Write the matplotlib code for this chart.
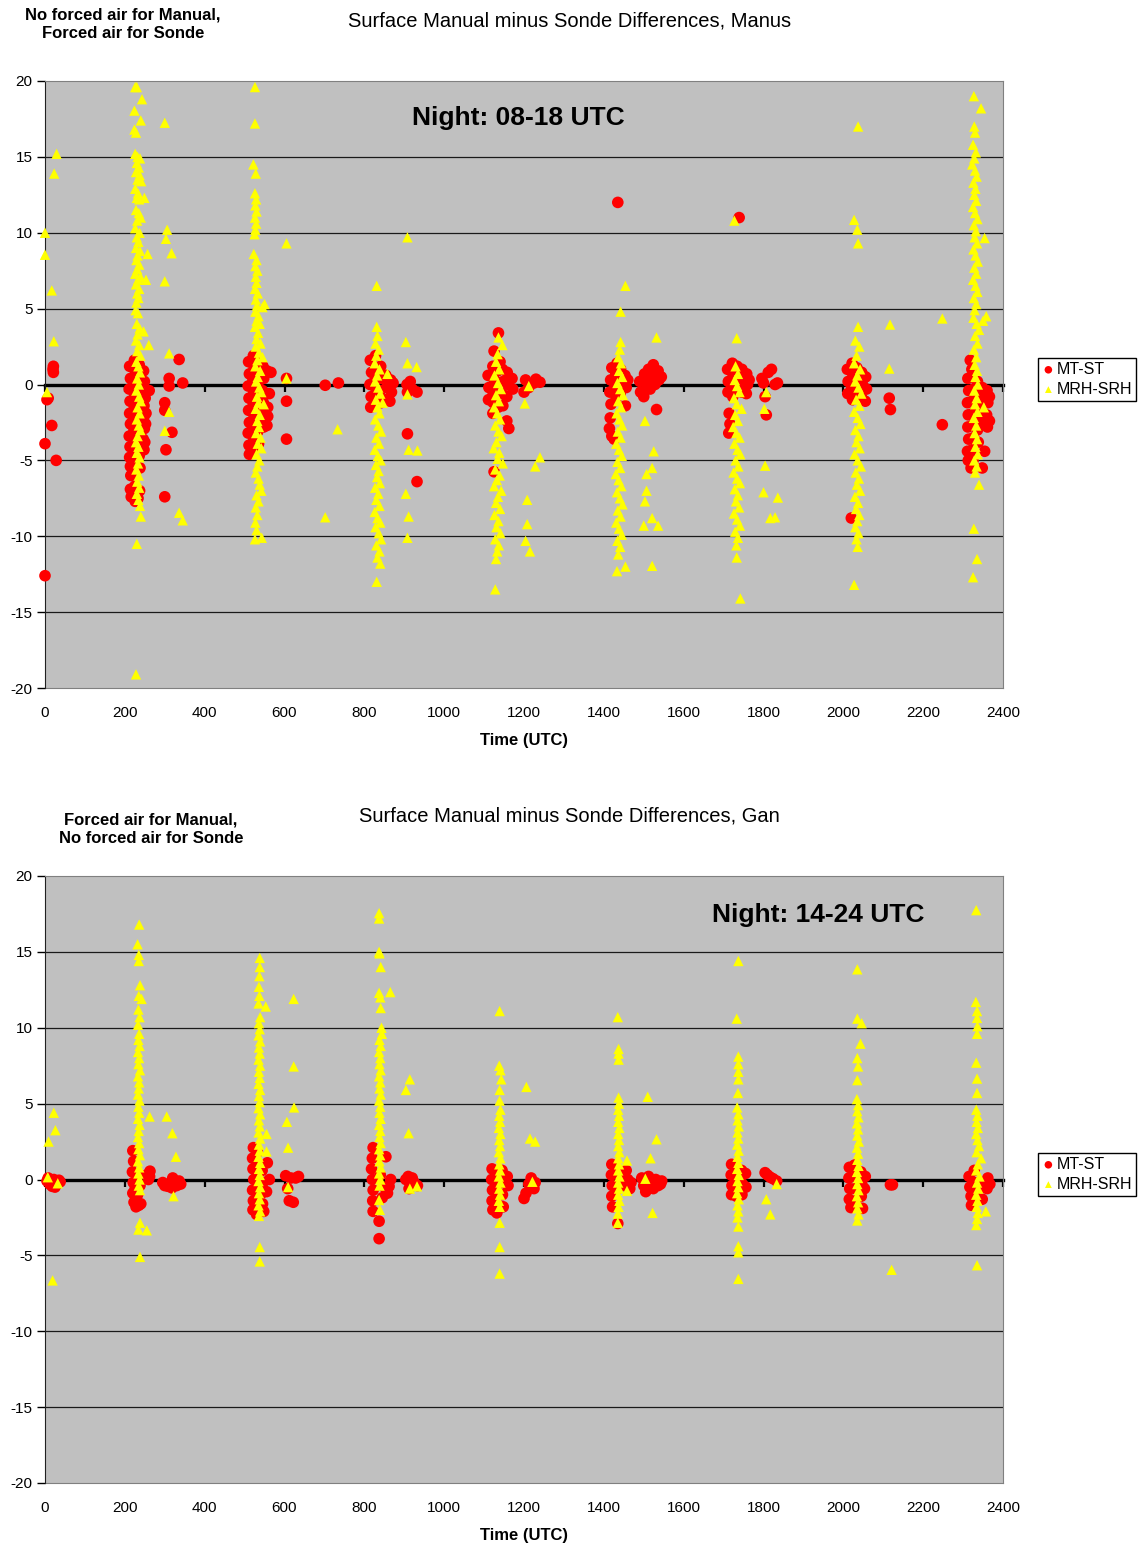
import matplotlib
matplotlib.use("Agg")
from matplotlib import pyplot as plt

plt.rcParams['font.family'] = ['Liberation Sans', 'DejaVu Sans']
plt.rcParams['axes.unicode_minus'] = False

# ---- data (time UTC, difference) ----

manus_mt = [
    (0, -3.9), (0, -12.6), (5, -1.0), (8, -0.9), (17, -2.7), (28, -5.0), (21, 1.2), (21, 0.8), (20, 1.0),
    # ~230
    (212, 1.2), (214, 0.4), (211, -0.3), (213, -1.1), (212, -1.9), (214, -2.6), (211, -3.4), (213, -4.1),
    (212, -4.8), (214, -5.4), (215, -6.0), (214, -6.9), (216, -7.4),
    (224, 1.6), (226, 0.9), (223, 0.1), (225, -0.7), (224, -1.5), (226, -2.3), (223, -3.0), (225, -3.8),
    (224, -4.5), (226, -5.2), (224, -5.9), (225, -6.7), (223, -7.2), (226, -7.7),
    (236, 1.3), (238, 0.6), (235, -0.2), (237, -1.0), (236, -1.8), (238, -2.5), (235, -3.2), (237, -4.0),
    (236, -4.7), (238, -5.5), (237, -7.0), (233, -7.5),
    (247, 0.9), (249, 0.2), (246, -0.6), (248, -1.4), (247, -2.2), (249, -2.9), (246, -3.6), (248, -4.3),
    (250, -3.8), (252, -2.6), (253, -1.9), (251, -0.9), (261, -0.4),
    (300, -1.2), (300, -1.7), (311, 0.4), (311, -0.1), (303, -4.3), (300, -7.4), (318, -3.15), (336, 1.65), (345, 0.1),
    # ~530
    (510, 1.5), (512, 0.7), (509, -0.1), (511, -0.9), (510, -1.7), (512, -2.5), (509, -3.2), (511, -4.0), (512, -4.6),
    (522, 1.9), (524, 1.1), (521, 0.3), (523, -0.5), (522, -1.3), (524, -2.1), (521, -2.9), (523, -3.6), (522, -4.3),
    (534, 1.6), (536, 0.8), (533, 0.0), (535, -0.8), (534, -1.6), (536, -2.4), (533, -3.1), (535, -3.9),
    (546, 1.2), (548, 0.4), (545, -0.4), (547, -1.2), (546, -2.0), (548, -2.8), (556, 0.9), (558, -1.5),
    (558, -2.1), (556, -2.7), (566, 0.8), (562, -0.6),
    (605, 0.4), (605, -1.1), (605, -3.6), (702, -0.05), (735, 0.1),
    # ~835
    (815, 1.6), (818, 0.8), (814, 0.0), (817, -0.8), (816, -1.5), (828, 1.9), (830, 1.1), (827, 0.3), (829, -0.5),
    (828, -1.3), (841, 1.2), (843, 0.4), (840, -0.4), (842, -1.2), (854, 0.6), (856, -0.2), (853, -1.0),
    (866, 0.3), (868, -0.5), (864, -1.1), (872, 0.1),
    (907, 0.0), (908, -0.5), (932, -0.5), (908, -3.25), (932, -6.4), (915, 0.2), (920, -0.3),
    # ~1130
    (1136, 3.4), (1125, 2.2), (1140, 1.5), (1110, 0.6), (1112, -0.2), (1111, -1.0), (1122, 1.2), (1124, 0.4),
    (1121, -0.4), (1123, -1.2), (1122, -1.9), (1134, 0.9), (1136, 0.1), (1133, -0.7), (1135, -1.5), (1146, 1.0),
    (1148, 0.2), (1145, -0.6), (1147, -1.4), (1158, 0.8), (1160, 0.0), (1157, -0.8), (1170, 0.4), (1172, -0.3),
    (1162, -2.9), (1157, -2.4), (1125, -5.75),
    (1204, 0.3), (1200, -0.5), (1240, 0.15), (1212, -0.2), (1225, 0.1), (1230, 0.35),
    # ~1440
    (1433, 1.4), (1420, 1.1), (1417, 0.3), (1415, -0.5), (1418, -1.3), (1416, -2.2), (1414, -2.9), (1430, 0.7),
    (1428, -0.1), (1431, -0.9), (1442, 1.0), (1444, 0.2), (1441, -0.6), (1453, 0.6), (1456, -0.2), (1460, 0.3),
    (1454, -1.4), (1426, -3.6), (1420, -3.4), (1435, 12.0),
    (1490, 0.2), (1492, -0.5), (1500, -0.8), (1502, 0.7), (1505, 0.1), (1512, 1.0), (1514, 0.3), (1516, -0.3),
    (1524, 1.3), (1526, 0.6), (1528, 0.0), (1536, 0.9), (1538, 0.3), (1544, 0.5), (1532, -1.65),
    # ~1735
    (1710, 1.0), (1712, 0.2), (1711, -0.5), (1722, 1.4), (1724, 0.6), (1721, -0.2), (1723, -0.8), (1734, 1.2),
    (1736, 0.4), (1733, -0.4), (1746, 1.0), (1748, 0.2), (1745, -0.5), (1758, 0.7), (1760, 0.0), (1757, -0.6),
    (1764, 0.3), (1714, -1.9), (1716, -2.6), (1713, -3.2), (1739, 11.0),
    (1796, 0.4), (1812, 0.8), (1829, 0.0), (1804, -0.8), (1807, -2.0), (1820, 1.0), (1800, 0.1), (1835, 0.1),
    # ~2040
    (2010, 1.0), (2012, 0.2), (2011, -0.6), (2022, 1.4), (2024, 0.6), (2021, -0.2), (2023, -1.0), (2034, 1.1),
    (2036, 0.3), (2033, -0.5), (2046, 0.8), (2048, 0.0), (2045, -0.8), (2056, 0.5), (2058, -0.3), (2055, -1.1),
    (2020, -8.8), (2115, -0.9), (2118, -1.65), (2248, -2.65),
    # ~2340
    (2318, 1.6), (2322, 1.0), (2312, 0.4), (2314, -0.4), (2311, -1.2), (2313, -2.0), (2312, -2.8), (2314, -3.6),
    (2311, -4.4), (2313, -5.0), (2324, 0.5), (2326, -0.3), (2323, -1.1), (2325, -1.9), (2324, -2.7), (2326, -3.5),
    (2323, -4.3), (2325, -5.0), (2336, 0.2), (2338, -0.6), (2335, -1.4), (2337, -2.2), (2336, -3.0), (2338, -3.8),
    (2348, -0.2), (2350, -1.0), (2347, -1.8), (2349, -2.6), (2360, -0.4), (2362, -1.2), (2359, -2.0), (2361, -2.8),
    (2354, -4.4), (2348, -5.5), (2366, -0.8), (2366, -2.4), (2320, -5.5),
]

manus_rh = [
    (0, 10.0), (0, 8.55), (17, 6.2), (23, 13.9), (29, 15.2), (22, 2.85), (5, -0.5),
    # ~230
    (226, 19.6), (230, 19.6), (243, 18.8), (224, 18.05), (240, 17.4), (224, 16.8), (228, 16.6), (226, 15.2),
    (232, 15.0), (238, 14.9), (230, 14.6), (235, 14.3), (228, 14.0), (237, 13.8), (232, 13.5), (241, 13.4),
    (226, 12.9), (233, 12.6), (230, 12.3), (249, 12.3), (236, 12.2), (228, 11.5), (235, 11.3), (240, 11.0),
    (231, 10.8), (226, 10.3), (237, 10.0), (230, 9.7), (234, 9.4), (228, 9.0), (238, 8.8), (232, 8.5),
    (257, 8.6), (229, 8.2), (236, 7.9), (231, 7.6), (226, 7.3), (239, 7.1), (233, 6.9), (253, 6.9),
    (228, 6.6), (236, 6.3), (231, 6.0), (234, 5.7), (229, 5.4), (227, 4.9), (233, 4.7), (230, 4.0),
    (237, 3.7), (247, 3.5), (232, 3.3), (228, 2.9), (236, 2.6), (260, 2.6), (231, 2.2), (239, 1.9),
    (229, 1.5), (234, 1.2), (238, 0.8), (231, 0.4), (235, 0.0), (229, -0.4), (236, -0.8), (240, -1.1),
    (232, -1.5), (237, -1.9), (230, -2.3), (235, -2.7), (239, -3.0), (232, -3.4), (228, -3.8), (234, -4.1),
    (230, -4.5), (237, -4.8), (233, -5.2), (229, -5.6), (235, -6.0), (231, -6.4), (236, -6.8), (230, -7.2),
    (234, -7.6), (238, -8.0), (240, -8.7), (230, -10.5), (228, -19.1),
    (300, 17.25), (306, 10.2), (303, 9.6), (317, 8.65), (300, 6.8), (311, 2.05), (311, -1.8), (300, -3.05),
    (336, -8.45), (345, -8.95),
    # ~530
    (526, 19.6), (526, 17.2), (522, 14.5), (528, 13.9), (526, 12.6), (529, 12.2), (527, 11.8), (530, 11.4),
    (526, 11.0), (529, 10.6), (527, 10.2), (525, 9.9), (523, 8.6), (530, 8.2), (527, 7.8), (532, 7.5),
    (528, 7.1), (530, 6.7), (526, 6.3), (533, 6.0), (528, 5.6), (545, 5.1), (550, 5.3), (531, 5.2),
    (527, 4.8), (535, 4.5), (530, 4.2), (538, 4.0), (526, 3.8), (534, 3.4), (530, 3.0), (540, 2.7),
    (528, 2.5), (536, 2.1), (545, 1.8), (532, 1.6), (527, 1.2), (539, 0.9), (533, 0.5), (529, 0.2),
    (537, -0.2), (542, -0.5), (531, -0.8), (535, -1.2), (548, -1.3), (528, -1.6), (538, -2.0), (532, -2.4),
    (536, -2.8), (529, -3.2), (540, -3.5), (533, -3.9), (542, -4.2), (530, -4.6), (537, -5.0), (532, -5.4),
    (528, -5.8), (535, -6.2), (538, -6.6), (542, -7.0), (530, -7.3), (535, -7.7), (528, -8.1), (532, -8.6),
    (527, -9.1), (530, -9.6), (526, -10.2), (543, -10.1),
    (605, 9.3), (605, 0.4), (702, -8.75), (733, -2.95),
    # ~835
    (831, 6.5), (831, 3.8), (833, 3.2), (828, 2.7), (836, 2.3), (830, 1.9), (826, 1.4), (838, 1.0),
    (858, 0.7), (832, 0.6), (827, 0.2), (835, -0.2), (840, -0.6), (829, -1.0), (846, -1.2), (833, -1.5),
    (838, -1.9), (827, -2.3), (835, -2.7), (842, -3.1), (830, -3.5), (837, -3.9), (826, -4.3), (834, -4.7),
    (841, -5.0), (829, -5.3), (836, -5.7), (832, -6.1), (839, -6.5), (827, -6.8), (835, -7.2), (830, -7.6),
    (838, -8.0), (826, -8.4), (833, -8.8), (840, -9.1), (828, -9.4), (836, -9.8), (842, -10.2), (830, -10.6),
    (838, -11.0), (833, -11.4), (840, -11.8), (831, -13.0),
    (908, 9.7), (904, 2.8), (908, 1.4), (931, 1.15), (908, -0.65), (911, -4.3), (933, -4.35), (904, -7.2),
    (911, -8.7), (908, -10.1),
    # ~1130
    (1136, 3.1), (1146, 2.6), (1134, 2.0), (1130, 1.5), (1138, 1.0), (1126, 0.6), (1135, 0.1), (1142, -0.3),
    (1130, -0.7), (1137, -1.1), (1125, -1.5), (1133, -1.9), (1140, -2.3), (1128, -2.7), (1136, -3.1), (1144, -3.4),
    (1131, -3.8), (1124, -4.2), (1138, -4.5), (1134, -4.9), (1147, -5.2), (1128, -5.6), (1139, -6.0), (1132, -6.3),
    (1125, -6.7), (1143, -7.0), (1135, -7.4), (1130, -7.8), (1140, -8.2), (1126, -8.6), (1136, -9.0), (1131, -9.4),
    (1141, -9.8), (1128, -10.2), (1137, -10.6), (1133, -11.0), (1130, -11.5), (1128, -13.5),
    (1202, -1.25), (1212, -0.1), (1240, -4.8), (1228, -5.4), (1208, -7.6), (1208, -9.2), (1204, -10.3), (1215, -11.0),
    # ~1440
    (1454, 6.5), (1442, 4.8), (1442, 2.8), (1440, 2.3), (1436, 1.8), (1443, 1.4), (1438, 0.9), (1446, 0.5),
    (1434, 0.1), (1441, -0.3), (1448, -0.7), (1436, -1.1), (1443, -1.5), (1432, -1.9), (1439, -2.3), (1446, -2.7),
    (1435, -3.1), (1442, -3.5), (1431, -3.9), (1438, -4.3), (1445, -4.7), (1434, -5.1), (1441, -5.5), (1430, -5.9),
    (1437, -6.3), (1444, -6.7), (1433, -7.1), (1440, -7.5), (1447, -7.9), (1435, -8.3), (1442, -8.7), (1431, -9.1),
    (1438, -9.5), (1445, -9.9), (1434, -10.3), (1441, -10.7), (1436, -11.2), (1454, -12.0), (1433, -12.3),
    (1532, 3.1), (1503, -2.4), (1525, -4.4), (1521, -5.5), (1507, -5.9), (1507, -7.0), (1503, -7.7), (1500, -9.3),
    (1521, -8.8), (1536, -9.3), (1521, -11.95),
    # ~1735
    (1727, 10.8), (1733, 3.05), (1730, 1.2), (1736, 0.7), (1728, 0.3), (1734, -0.1), (1740, -0.5), (1726, -0.9),
    (1733, -1.3), (1745, -1.6), (1729, -2.0), (1736, -2.4), (1724, -2.8), (1732, -3.2), (1740, -3.5), (1727, -3.9),
    (1735, -4.3), (1742, -4.6), (1730, -5.0), (1737, -5.4), (1725, -5.8), (1734, -6.2), (1741, -6.5), (1728, -6.9),
    (1736, -7.3), (1731, -7.7), (1739, -8.1), (1726, -8.5), (1734, -8.9), (1741, -9.3), (1729, -9.7), (1736, -10.1),
    (1732, -10.6), (1733, -11.4), (1742, -14.1),
    (1807, -0.5), (1802, -1.6), (1804, -5.35), (1800, -7.1), (1836, -7.45), (1817, -8.8), (1829, -8.75),
    # ~2040
    (2037, 17.0), (2027, 10.85), (2035, 10.2), (2037, 9.3), (2037, 3.8), (2030, 2.9), (2040, 2.5), (2033, 1.9),
    (2027, 1.4), (2042, 1.0), (2035, 0.6), (2030, 0.2), (2038, -0.2), (2045, -0.6), (2032, -1.0), (2040, -1.4),
    (2027, -1.8), (2036, -2.2), (2043, -2.6), (2030, -3.0), (2038, -3.4), (2033, -3.8), (2041, -4.2), (2028, -4.6),
    (2036, -5.0), (2044, -5.4), (2031, -5.8), (2039, -6.2), (2034, -6.6), (2042, -7.0), (2029, -7.4), (2037, -7.8),
    (2032, -8.2), (2040, -8.6), (2035, -9.0), (2030, -9.4), (2038, -9.8), (2033, -10.2), (2036, -10.7), (2027, -13.2),
    (2117, 3.95), (2115, 1.05), (2248, 4.35),
    # ~2340
    (2327, 19.0), (2345, 18.2), (2328, 17.0), (2330, 16.6), (2325, 15.8), (2332, 15.3), (2328, 14.9), (2323, 14.5),
    (2330, 14.1), (2334, 13.7), (2326, 13.3), (2331, 12.9), (2328, 12.5), (2333, 12.1), (2325, 11.7), (2330, 11.3),
    (2336, 10.9), (2327, 10.5), (2332, 10.1), (2354, 9.65), (2329, 9.7), (2335, 9.3), (2326, 8.9), (2331, 8.5),
    (2337, 8.1), (2328, 7.7), (2333, 7.3), (2325, 6.9), (2331, 6.5), (2336, 6.1), (2327, 5.7), (2333, 5.3),
    (2329, 4.9), (2358, 4.5), (2350, 4.2), (2326, 4.4), (2334, 4.0), (2340, 3.6), (2330, 3.2), (2336, 2.7),
    (2327, 2.3), (2333, 1.8), (2329, 1.3), (2335, 0.9), (2331, 0.5), (2337, 0.0), (2328, -0.4), (2334, -0.9),
    (2330, -1.3), (2352, -1.5), (2336, -1.8), (2327, -2.2), (2333, -2.7), (2329, -3.2), (2335, -3.6), (2331, -4.1),
    (2337, -4.6), (2328, -5.0), (2334, -5.4), (2330, -5.8), (2340, -6.6), (2327, -9.5), (2335, -11.5), (2325, -12.7),
]

gan_mt = [
    (5, -0.1), (12, -0.3), (18, -0.45), (25, -0.5), (30, -0.3), (38, -0.15), (8, 0.1), (22, 0.0), (35, -0.05),
    # ~235
    (220, 1.9), (222, 1.2), (219, 0.5), (221, -0.2), (220, -0.9), (223, -1.5), (228, -1.8), (235, -1.7),
    (240, -1.6), (232, -1.0), (238, -0.4), (230, 0.3), (226, -0.6), (263, 0.55), (259, 0.0), (255, 0.3), (262, 0.2),
    (295, -0.2), (300, -0.4), (308, -0.45), (315, -0.3), (320, 0.1), (325, -0.2), (330, -0.4), (336, -0.1),
    (340, -0.3), (318, -0.55),
    # ~535
    (522, 2.1), (520, 1.4), (521, 0.7), (523, 0.0), (520, -0.7), (522, -1.4), (521, -2.0), (530, -2.3),
    (532, 1.8), (534, 1.0), (531, 0.3), (533, -0.4), (532, -1.1), (534, -1.8), (544, 0.6), (546, -0.2),
    (543, -0.9), (545, -1.6), (548, -2.1), (557, 1.1), (562, 0.0), (555, -0.8),
    (603, 0.25), (616, 0.1), (628, 0.1), (622, -1.5), (608, -0.6), (635, 0.2), (612, -1.4),
    # ~835
    (822, 2.1), (820, 1.4), (818, 0.7), (820, 0.0), (822, -0.7), (821, -1.4), (822, -2.1), (837, -2.75),
    (837, -3.9), (854, 1.5), (862, -0.45), (858, -0.9), (866, 0.0), (845, -1.2), (850, -0.5), (840, 0.3),
    (904, 0.0), (912, -0.6), (933, -0.4), (920, 0.1), (925, -0.2), (910, 0.2),
    # ~1135
    (1120, 0.7), (1119, 0.0), (1121, -0.7), (1120, -1.4), (1122, -2.0), (1130, 0.4), (1131, -0.5), (1129, -1.3),
    (1132, -2.2), (1145, 0.6), (1147, -0.2), (1146, -1.0), (1148, -1.8), (1160, -0.4), (1158, 0.2),
    (1212, -0.3), (1200, -1.25), (1225, -0.6), (1218, 0.1), (1205, -0.9), (1228, -0.2),
    # ~1440
    (1420, 1.0), (1419, 0.3), (1421, -0.4), (1420, -1.1), (1422, -1.8), (1435, -2.9), (1432, 0.7), (1434, -0.6),
    (1446, 0.3), (1456, 0.6), (1460, 0.0), (1465, -0.6), (1450, -0.4), (1468, -0.2),
    (1495, 0.1), (1500, -0.4), (1505, -0.8), (1512, 0.2), (1518, -0.3), (1524, -0.6), (1530, 0.0), (1536, -0.4),
    (1542, -0.3), (1545, -0.1),
    # ~1735
    (1720, 1.0), (1719, 0.3), (1721, -0.4), (1720, -1.0), (1731, 0.8), (1733, -0.2), (1732, -1.1), (1745, 0.6),
    (1747, -0.3), (1746, -1.0), (1755, 0.4), (1756, -0.5),
    (1804, 0.45), (1817, 0.15), (1833, -0.1), (1810, 0.3), (1824, 0.05),
    # ~2040
    (2015, 0.8), (2014, 0.1), (2016, -0.6), (2015, -1.3), (2019, -1.85), (2028, 0.95), (2030, 0.2), (2029, -0.6),
    (2031, -1.4), (2044, 0.5), (2046, -0.3), (2045, -1.1), (2055, 0.2), (2053, -0.6), (2048, -1.9),
    (2118, -0.35), (2123, -0.35),
    # ~2340
    (2315, 0.2), (2317, -0.5), (2321, -1.7), (2320, -1.1), (2328, 0.6), (2330, -0.2), (2329, -1.0), (2345, -0.5),
    (2348, -1.3), (2358, -0.15), (2362, 0.1), (2360, -0.6), (2367, -0.3),
]

gan_rh = [
    (9, 2.5), (22, 4.4), (26, 3.25), (7, 0.15), (32, -0.25), (19, -6.65),
    # ~235
    (236, 16.8), (232, 15.5), (235, 14.8), (235, 14.4), (238, 12.8), (235, 12.1), (242, 11.9), (234, 11.2),
    (237, 10.7), (233, 10.2), (236, 9.6), (234, 9.2), (237, 8.8), (233, 8.4), (236, 8.0), (234, 7.6),
    (238, 7.2), (233, 6.8), (236, 6.4), (235, 6.0), (233, 5.6), (237, 5.2), (234, 4.8), (236, 4.4),
    (233, 4.0), (237, 3.6), (235, 3.2), (233, 2.8), (236, 2.4), (234, 2.0), (238, 1.6), (233, 1.2),
    (236, 0.8), (234, 0.4), (237, 0.0), (235, -0.4), (238, -0.7), (238, -2.85), (234, -3.3), (255, -3.35),
    (238, -5.1), (262, 4.15),
    (305, 4.15), (319, 3.05), (328, 1.5), (322, -1.1),
    # ~540
    (538, 14.6), (538, 14.0), (537, 13.4), (536, 12.7), (537, 12.1), (535, 11.6), (553, 11.4), (539, 10.7),
    (536, 10.3), (538, 9.9), (535, 9.5), (539, 9.1), (536, 8.7), (538, 8.3), (535, 7.9), (539, 7.5),
    (536, 7.1), (538, 6.7), (535, 6.3), (539, 5.9), (536, 5.5), (538, 5.1), (535, 4.7), (539, 4.3),
    (536, 3.9), (538, 3.5), (555, 3.0), (535, 3.1), (539, 2.7), (536, 2.3), (555, 1.85), (538, 1.9),
    (535, 1.5), (539, 1.1), (536, 0.7), (538, 0.3), (535, -0.1), (539, -0.5), (536, -0.9), (538, -1.3),
    (535, -1.7), (539, -2.1), (536, -2.4), (538, -4.45), (538, -5.4),
    (623, 11.9), (623, 7.45), (624, 4.75), (606, 3.8), (609, 2.1), (609, -0.5),
    # ~835
    (837, 17.55), (837, 17.2), (837, 15.0), (838, 14.9), (841, 14.0), (837, 12.3), (840, 12.0), (841, 11.3),
    (865, 12.35), (843, 10.0), (844, 9.6), (838, 9.2), (841, 8.8), (837, 8.4), (840, 8.0), (838, 7.6),
    (841, 7.2), (837, 6.8), (840, 6.4), (838, 6.0), (841, 5.6), (837, 5.2), (840, 4.8), (838, 4.4),
    (841, 4.0), (837, 3.6), (840, 3.2), (838, 2.8), (841, 2.4), (837, 2.0), (840, 1.6), (838, 1.2),
    (841, 0.8), (837, 0.4), (840, 0.0), (838, -0.4), (837, -1.35), (839, -2.0),
    (904, 5.9), (914, 6.6), (911, 3.05), (914, -0.6), (932, -0.45),
    # ~1135
    (1139, 11.1), (1138, 7.5), (1141, 7.2), (1143, 6.6), (1139, 5.9), (1139, 5.2), (1141, 4.6), (1138, 4.2),
    (1140, 3.8), (1137, 3.4), (1141, 3.0), (1138, 2.6), (1140, 2.2), (1137, 1.8), (1141, 1.4), (1138, 1.0),
    (1140, 0.6), (1137, 0.2), (1141, -0.2), (1138, -0.6), (1140, -1.0), (1137, -1.4), (1139, -1.8),
    (1139, -2.85), (1139, -4.45), (1139, -6.2),
    (1206, 6.1), (1215, 2.7), (1228, 2.5), (1221, -0.15),
    # ~1440
    (1435, 10.7), (1437, 8.6), (1437, 8.3), (1437, 7.9), (1437, 5.4), (1438, 5.0), (1436, 4.6), (1438, 4.2),
    (1436, 3.8), (1439, 3.4), (1436, 3.0), (1438, 2.6), (1436, 2.2), (1439, 1.8), (1436, 1.4), (1438, 1.0),
    (1436, 0.6), (1439, 0.2), (1436, -0.2), (1438, -0.6), (1436, -1.0), (1439, -1.4), (1437, -1.8),
    (1435, -2.25), (1435, -2.85), (1458, 1.25), (1458, -0.75),
    (1510, 5.45), (1532, 2.65), (1517, 1.4), (1504, 0.05), (1522, -2.2),
    # ~1735
    (1737, 14.4), (1733, 10.6), (1737, 8.1), (1737, 7.6), (1737, 7.1), (1737, 6.6), (1736, 5.7), (1734, 4.75),
    (1737, 4.3), (1735, 3.9), (1738, 3.5), (1735, 3.1), (1737, 2.7), (1734, 2.3), (1738, 1.9), (1735, 1.5),
    (1737, 1.1), (1734, 0.7), (1738, 0.3), (1735, -0.1), (1737, -0.5), (1734, -0.9), (1738, -1.3), (1735, -1.7),
    (1737, -2.1), (1735, -2.5), (1737, -3.1), (1737, -4.4), (1737, -4.8), (1737, -6.55),
    (1833, -0.3), (1807, -1.3), (1817, -2.3),
    # ~2040
    (2035, 13.85), (2035, 10.6), (2046, 10.3), (2043, 8.95), (2035, 8.0), (2037, 7.45), (2035, 6.55), (2034, 5.3),
    (2037, 4.9), (2035, 4.5), (2038, 4.1), (2034, 3.7), (2037, 3.3), (2035, 2.9), (2039, 2.5), (2034, 2.1),
    (2037, 1.7), (2035, 1.3), (2038, 0.9), (2034, 0.5), (2037, 0.1), (2035, -0.3), (2038, -0.7), (2034, -1.1),
    (2037, -1.5), (2035, -1.9), (2038, -2.3), (2035, -2.7),
    (2121, -5.95),
    # ~2340
    (2333, 17.75), (2332, 11.7), (2335, 11.1), (2335, 10.65), (2336, 10.1), (2335, 9.6), (2333, 7.7), (2335, 6.65),
    (2335, 5.7), (2333, 4.6), (2336, 4.2), (2334, 3.8), (2337, 3.4), (2333, 3.0), (2336, 2.6), (2340, 2.2),
    (2334, 1.8), (2345, 1.4), (2337, 1.0), (2333, 0.6), (2341, 0.2), (2335, -0.2), (2338, -0.6), (2333, -1.0),
    (2336, -1.4), (2334, -1.8), (2337, -2.2), (2335, -2.6), (2333, -3.0), (2357, -2.1), (2335, -5.65),
]

x_ticks = [0, 200, 400, 600, 800, 1000, 1200, 1400, 1600, 1800, 2000, 2200, 2400]
y_ticks = [-20, -15, -10, -5, 0, 5, 10, 15, 20]

titles = ['Surface Manual minus Sonde Differences, Manus',
          'Surface Manual minus Sonde Differences, Gan']
notes = ['No forced air for Manual,\nForced air for Sonde',
         'Forced air for Manual,\nNo forced air for Sonde']
nights = ['Night: 08-18 UTC', 'Night: 14-24 UTC']
night_pos = [(1187, 17.55), (1936, 17.45)]


fig = plt.figure(figsize=(11.45, 15.51), dpi=100)

W, H = 1145., 1551.
boxes = [(81, 688), (876, 1483)]          # pixel rows of the plot areas
title_y = [21, 816]
note_y = [24, 829]
note_x = [123, 151]

for k, (mt, rh) in enumerate([(manus_mt, manus_rh), (gan_mt, gan_rh)]):
    top, bot = boxes[k]
    ax = fig.add_axes([45 / W, 1 - bot / H, (1003 - 45) / W, (bot - top) / H])
    ax.set_facecolor('#c0c0c0')

    for yy in y_ticks[1:-1]:
        if yy != 0:
            ax.axhline(yy, color='#1a1a1a', lw=0.9, zorder=1)

    t1, d1 = zip(*mt)
    t2, d2 = zip(*rh)
    h1 = ax.scatter(t1, d1, s=70, marker='o', c='#ff0000', edgecolors='none', zorder=3, clip_on=False, label='MT-ST')
    h2 = ax.scatter(t2, d2, s=56, marker='^', c='#ffff00', edgecolors='none', zorder=4, clip_on=False, label='MRH-SRH')

    ax.set_xlim(0, 2400)
    ax.set_ylim(-20, 20)

    # category axis crosses at zero, labels stay low
    ax.spines['bottom'].set_position(('data', 0))
    ax.spines['bottom'].set_linewidth(2.4)
    ax.spines['bottom'].set_zorder(2)
    ax.set_xticks(x_ticks)
    ax.tick_params(axis='x', direction='out', length=5, width=1.6, labelbottom=False)
    for s in ['top', 'right']:
        ax.spines[s].set_color('#808080')
    ax.spines['left'].set_color('#202020')

    sec = ax.secondary_xaxis(0.0)
    sec.set_xticks(x_ticks)
    sec.spines['bottom'].set_color('#808080')
    sec.tick_params(axis='x', length=0, pad=13, labelsize=11)
    sec.set_xlabel('Time (UTC)', fontsize=12, fontweight='bold', labelpad=9)

    ax.set_yticks(y_ticks)
    ax.tick_params(axis='y', direction='out', length=6, width=1, labelsize=11, pad=3)

    ax.text(night_pos[k][0], night_pos[k][1], nights[k], fontsize=19, fontweight='bold',
            ha='center', va='center', zorder=5)

    fig.text(569.5 / W, 1 - title_y[k] / H, titles[k], fontsize=14.5, ha='center', va='center')
    fig.text(note_x[k] / W, 1 - note_y[k] / H, notes[k], fontsize=12, fontweight='bold',
             ha='center', va='center', linespacing=1.3)

    leg_top = [358, 1153][k]
    ax.legend(handles=[h1, h2], loc='upper left', bbox_to_anchor=(1038 / W, 1 - leg_top / H),
              bbox_transform=fig.transFigure, fontsize=11.5, frameon=True, fancybox=False,
              edgecolor='black', framealpha=1, borderpad=0.25, handletextpad=0.1,
              handlelength=0.8, labelspacing=0.3, borderaxespad=0, markerscale=0.65)
    ax.get_legend().get_frame().set_linewidth(1.0)

fig.savefig('out.png', dpi=100)
